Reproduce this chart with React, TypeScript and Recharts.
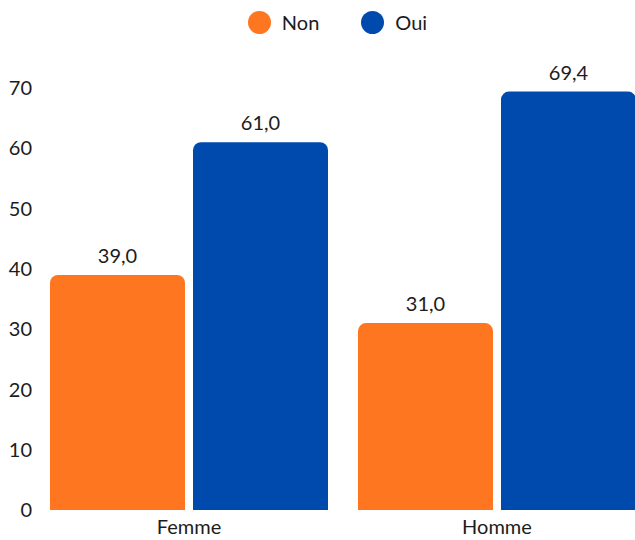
import { BarChart, Bar, XAxis, YAxis, LabelList } from "recharts";

const categories = ["Femme", "Homme"];
const nonValues = [39.0, 31.0];
const ouiValues = [61.0, 69.4];
const yTicks = [0, 10, 20, 30, 40, 50, 60, 70];

const series = [
  { key: "non", name: "Non", color: "#FF7621" },
  { key: "oui", name: "Oui", color: "#004AAD" },
];

const data = categories.map((c, i) => ({ name: c, non: nonValues[i], oui: ouiValues[i] }));

const font = "Lato, 'Noto Sans', sans-serif";
const textColor = "#1c1c1c";
const fmt = (v: any) => Number(v).toFixed(1).replace(".", ",");

export default function App() {
  return (
    <div
      style={{
        position: "absolute",
        top: 0,
        left: 0,
        width: 635,
        height: 540,
        overflow: "hidden",
        paddingLeft: 8,
        paddingTop: 8,
        boxSizing: "border-box",
        fontFamily: font,
      }}>
      <div
        style={{
          width: 643,
          height: 28,
          paddingLeft: 16,
          boxSizing: "border-box",
          display: "flex",
          justifyContent: "center",
          alignItems: "center",
          gap: 42,
        }}>
        {series.map((s) => (
          <div key={s.key} style={{ display: "flex", alignItems: "center", gap: 11 }}>
            <span style={{ width: 23, height: 23, borderRadius: "50%", background: s.color, display: "inline-block" }} />
            <span style={{ fontSize: 20, color: textColor }}>{s.name}</span>
          </div>
        ))}
      </div>
      <BarChart
        width={643}
        height={503}
        data={data}
        margin={{ top: 52, right: 0, left: 0, bottom: 0 }}
        barCategoryGap={15}
        barGap={8}>
        <XAxis
          dataKey='name'
          axisLine={false}
          tickLine={false}
          height={29}
          tickMargin={4}
          tick={{ fontSize: 20, fill: textColor, fontFamily: font }}
        />
        <YAxis
          domain={[0, 70]}
          ticks={yTicks}
          width={27}
          axisLine={false}
          tickLine={false}
          tickSize={0}
          tickMargin={3}
          tick={{ fontSize: 20, fill: textColor, fontFamily: font }}
        />
        {series.map((s) => (
          <Bar key={s.key} dataKey={s.key} name={s.name} fill={s.color} radius={[8, 8, 0, 0]} isAnimationActive={false}>
            <LabelList
              dataKey={s.key}
              position='top'
              offset={12}
              formatter={fmt}
              style={{ fontSize: 20, fill: textColor, fontFamily: font }}
            />
          </Bar>
        ))}
      </BarChart>
    </div>
  );
}
